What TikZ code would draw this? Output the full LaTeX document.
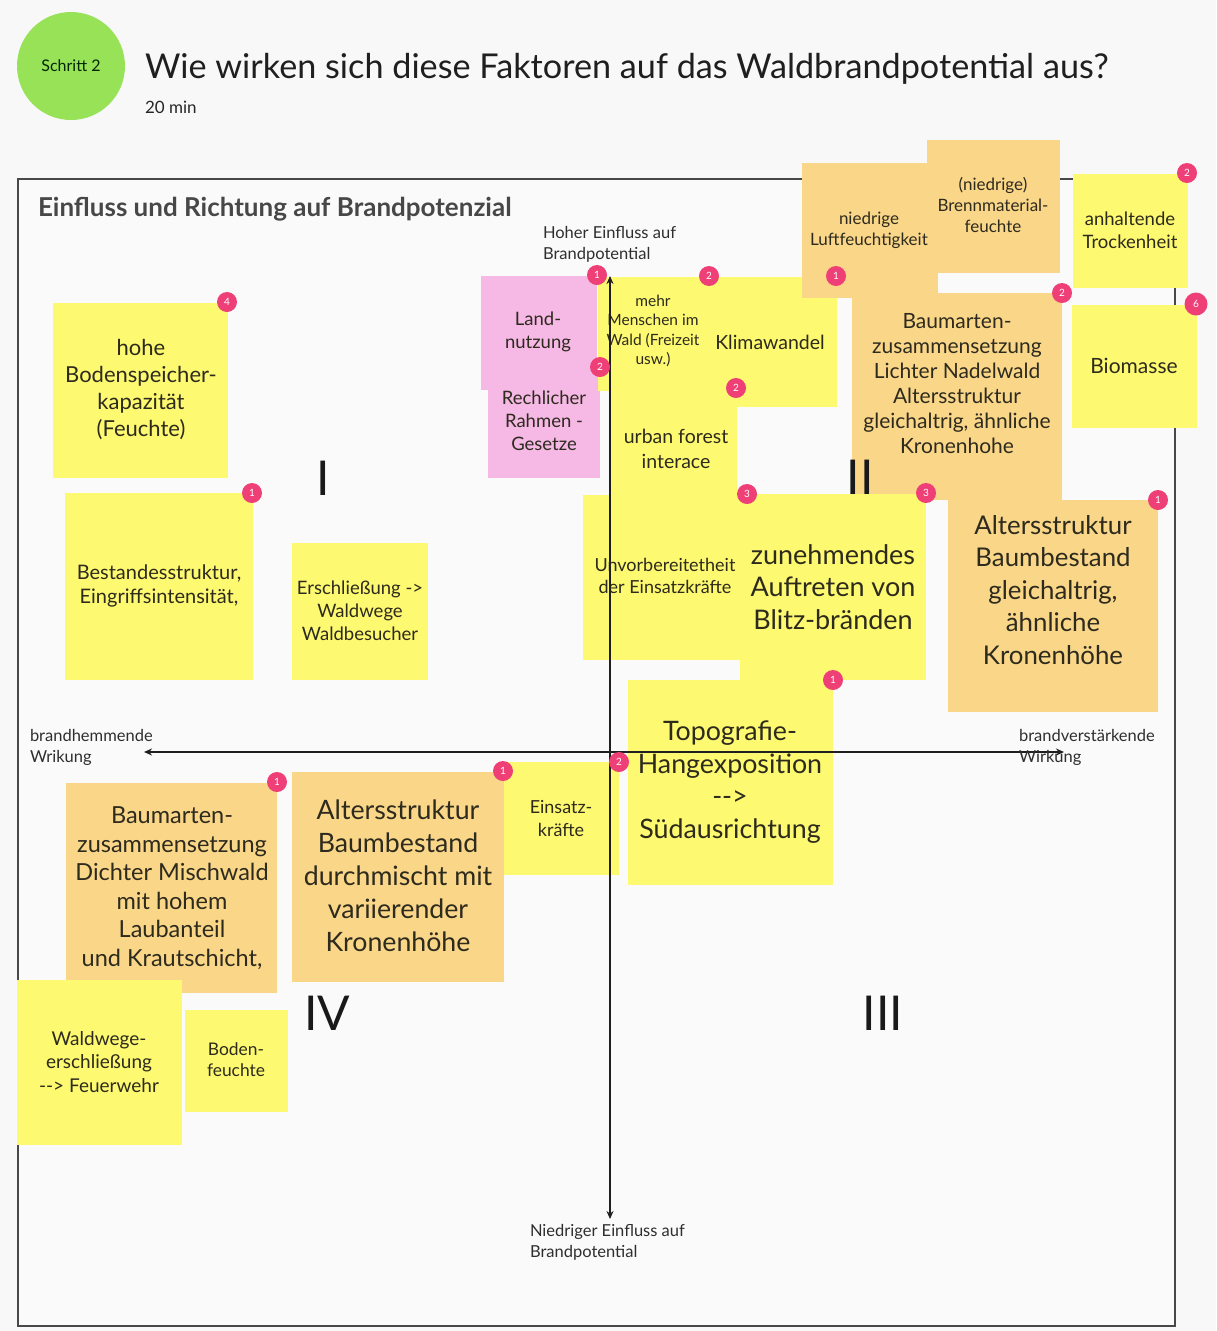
\documentclass[tikz,border=0pt]{standalone}
\usepackage{fontspec}
\setmainfont{Lato}
\usetikzlibrary{arrows.meta}

\definecolor{bg}{RGB}{248,248,249}
\definecolor{paper}{RGB}{250,250,251}
\definecolor{noteyellow}{RGB}{253,249,112}
\definecolor{noteorange}{RGB}{250,214,136}
\definecolor{notepink}{RGB}{246,184,228}
\definecolor{badgepink}{RGB}{238,64,118}
\definecolor{stepgreen}{RGB}{152,226,88}
\definecolor{ink}{RGB}{45,42,30}
\definecolor{framegray}{RGB}{72,72,72}

\newcommand\fsz[2]{\fontsize{#1}{#2}\selectfont}

\tikzset{
  every node/.style={inner sep=0pt, outer sep=0pt},
  note/.style={anchor=north west, draw=none, rectangle},
  notetext/.style={align=center, text=ink},
  badge/.style={circle, fill=badgepink, minimum size=20pt, text=white, font=\fsz{10}{12}},
  axis/.style={line width=1.8pt, draw=black!88,
    {Stealth[length=8pt,width=7pt]}-{Stealth[length=8pt,width=7pt]}},
  axislabel/.style={anchor=west, align=left, text=black!82, font=\fsz{16.5}{21}},
  numeral/.style={text=black!90, font=\fsz{48}{48}},
}

% sticky note: name, x1, y1, x2, y2, colour
\newcommand\stickynote[6]{%
  \node[note, fill=#6, minimum width={(#4-#2)*1pt}, minimum height={(#5-#3)*1pt}] (#1) at (#2,#3) {};}

\begin{document}
\begin{tikzpicture}[x=1pt, y=-1pt]
\useasboundingbox (0,0) rectangle (1216,1331);
\fill[bg] (0,0) rectangle (1216,1331);

% header
\node[circle, fill=stepgreen, minimum size=108pt] (step) at (71,66) {};
\node[text=black!75!green!60!black, font=\fsz{16}{18}] (steplabel) at (71,66) {Schritt 2};
\node[anchor=base west, text=black!88, font=\fsz{34.2}{38}] (title) at (145,78)
  {Wie wirken sich diese Faktoren auf das Waldbrandpotential aus?};
\node[anchor=base west, text=black!85, font=\fsz{17}{18}] (duration) at (145,113) {20 min};

% board frame
\node[note, draw=framegray, line width=1.8pt, fill=paper, minimum width=1157pt, minimum height=1147pt] (board) at (18,179) {};
\node[anchor=base west, text=black!72, font=\bfseries\fsz{26}{29}] (boardtitle) at (38,216)
  {Einfluss und Richtung auf Brandpotenzial};

% sticky notes, bottom to top
\stickynote{rahmen}{488}{367}{600}{478}{notepink}
\stickynote{land}{481}{276}{597}{390}{notepink}
\stickynote{menschen}{598}{277}{710}{391}{noteyellow}
\stickynote{klima}{708}{277}{837}{407}{noteyellow}
\stickynote{urban}{610}{388}{737}{500}{noteyellow}
\stickynote{luft}{802}{163}{938}{298}{noteorange}
\stickynote{brenn}{927}{140}{1060}{273}{noteorange}
\stickynote{trocken}{1073}{174}{1188}{288}{noteyellow}
\stickynote{nadel}{852}{293}{1062}{500}{noteorange}
\stickynote{biomasse}{1072}{305}{1197}{428}{noteyellow}
\stickynote{unvorb}{583}{495}{747}{660}{noteyellow}
\stickynote{blitz}{740}{494}{926}{680}{noteyellow}
\stickynote{altgleich}{948}{500}{1158}{712}{noteorange}
\stickynote{topo}{628}{680}{833}{885}{noteyellow}
\stickynote{boden}{53}{303}{228}{478}{noteyellow}
\stickynote{bestand}{65}{493}{253}{680}{noteyellow}
\stickynote{erschl}{292}{543}{428}{680}{noteyellow}
\stickynote{misch}{66}{783}{277}{993}{noteorange}
\stickynote{altmisch}{292}{772}{504}{982}{noteorange}
\stickynote{einsatz}{504}{762}{619}{875}{noteyellow}
\stickynote{wege}{17}{980}{182}{1145}{noteyellow}
\stickynote{bodenf}{185}{1010}{288}{1112}{noteyellow}

% note texts
\node[notetext, font=\fsz{18.5}{23}] (land-t) at (538,332) {Land-\\nutzung};
\node[notetext, font=\fsz{18.5}{23}] (rahmen-t) at (544,421) {Rechlicher\\Rahmen -\\Gesetze};
\node[notetext, font=\fsz{15.5}{19.5}] (menschen-t) at (653,331) {mehr\\Menschen im\\Wald (Freizeit\\usw.)};
\node[notetext, font=\fsz{19.5}{22}] (klima-t) at (770,342) {Klimawandel};
\node[notetext, font=\fsz{19.5}{25}] (urban-t) at (676,449) {urban forest\\interace};
\node[notetext, font=\fsz{17}{21}] (luft-t) at (869,230) {niedrige\\Luftfeuchtigkeit};
\node[notetext, font=\fsz{17}{21}] (brenn-t) at (993,205) {(niedrige)\\Brennmaterial-\\feuchte};
\node[notetext, font=\fsz{18.5}{23}] (trocken-t) at (1130,230) {anhaltende\\Trockenheit};
\node[notetext, font=\fsz{21}{25}] (nadel-t) at (957,384) {Baumarten-\\zusammensetzung\\Lichter Nadelwald\\Altersstruktur\\gleichaltrig, ähnliche\\Kronenhohe};
\node[notetext, font=\fsz{21}{24}] (biomasse-t) at (1134,366) {Biomasse};
\node[notetext, font=\fsz{18}{22}] (unvorb-t) at (665,576) {Unvorbereitetheit\\der Einsatzkräfte};
\node[notetext, font=\fsz{27}{32.5}] (blitz-t) at (833,587) {zunehmendes\\Auftreten von\\Blitz-bränden};
\node[notetext, font=\fsz{25.8}{32.5}] (altgleich-t) at (1053,590) {Altersstruktur\\Baumbestand\\gleichaltrig,\\ähnliche\\Kronenhöhe};
\node[notetext, font=\fsz{26.8}{32.5}] (topo-t) at (730,782) {Topografie-\\Hangexposition\\-{}-{}>\\Südausrichtung};
\node[notetext, font=\fsz{22}{27}] (boden-t) at (141,390) {hohe\\Bodenspeicher-\\kapazität\\(Feuchte)};
\node[notetext, font=\fsz{20}{24}] (bestand-t) at (159,586) {Bestandesstruktur,\\Eingriffsintensität,};
\node[notetext, font=\fsz{18.5}{23}] (erschl-t) at (360,611) {Erschließung ->\\Waldwege\\Waldbesucher};
\node[notetext, font=\fsz{23.5}{28.5}] (misch-t) at (172,888) {Baumarten-\\zusammensetzung\\Dichter Mischwald\\mit hohem\\Laubanteil\\und Krautschicht,};
\node[notetext, font=\fsz{26.7}{33}] (altmisch-t) at (398,876) {Altersstruktur\\Baumbestand\\durchmischt mit\\variierender\\Kronenhöhe};
\node[notetext, font=\fsz{18}{23}] (einsatz-t) at (561,818) {Einsatz-\\kräfte};
\node[notetext, font=\fsz{19}{23.5}] (wege-t) at (99,1062) {Waldwege-\\erschließung\\-{}-{}> Feuerwehr};
\node[notetext, font=\fsz{17.4}{21}] (bodenf-t) at (236,1060) {Boden-\\feuchte};

% quadrant numerals
\node[numeral] (q1) at (323,478) {I};
\node[numeral] (q2) at (860,477) {II};
\node[numeral] (q3) at (883,1013) {III};
\node[numeral] (q4) at (327,1013) {IV};

% axes
\coordinate (ytop) at (610,276);
\coordinate (ybot) at (610,1219);
\coordinate (xleft) at (144,752);
\coordinate (xright) at (1064,752);
\draw[axis] (ybot) -- (ytop);
\draw[axis] (xleft) -- (xright);
\node[axislabel] (hoch) at (543,244) {Hoher Einfluss auf\\Brandpotential};
\node[axislabel] (niedrig) at (530,1242) {Niedriger Einfluss auf\\Brandpotential};
\node[axislabel] (hemm) at (30,747) {brandhemmende\\Wrikung};
\node[axislabel] (verst) at (1019,747) {brandverstärkende\\Wirkung};

% vote badges
\node[badge] (v-land) at (597,275) {1};
\node[badge] (v-menschen) at (709,276) {2};
\node[badge] (v-klima) at (836,276) {1};
\node[badge] (v-rahmen) at (600,367) {2};
\node[badge] (v-urban) at (736,388) {2};
\node[badge] (v-unvorb) at (747,494) {3};
\node[badge] (v-blitz) at (926,493) {3};
\node[badge] (v-nadel) at (1062,293) {2};
\node[badge] (v-trocken) at (1187,173) {2};
\node[badge, minimum size=23pt] (v-biomasse) at (1196,304) {6};
\node[badge] (v-altgleich) at (1158,500) {1};
\node[badge] (v-topo) at (833,680) {1};
\node[badge] (v-einsatz) at (619,762) {2};
\node[badge] (v-altmisch) at (503,771) {1};
\node[badge] (v-misch) at (277,782) {1};
\node[badge] (v-boden) at (227,302) {4};
\node[badge] (v-bestand) at (252,493) {1};
\end{tikzpicture}
\end{document}
